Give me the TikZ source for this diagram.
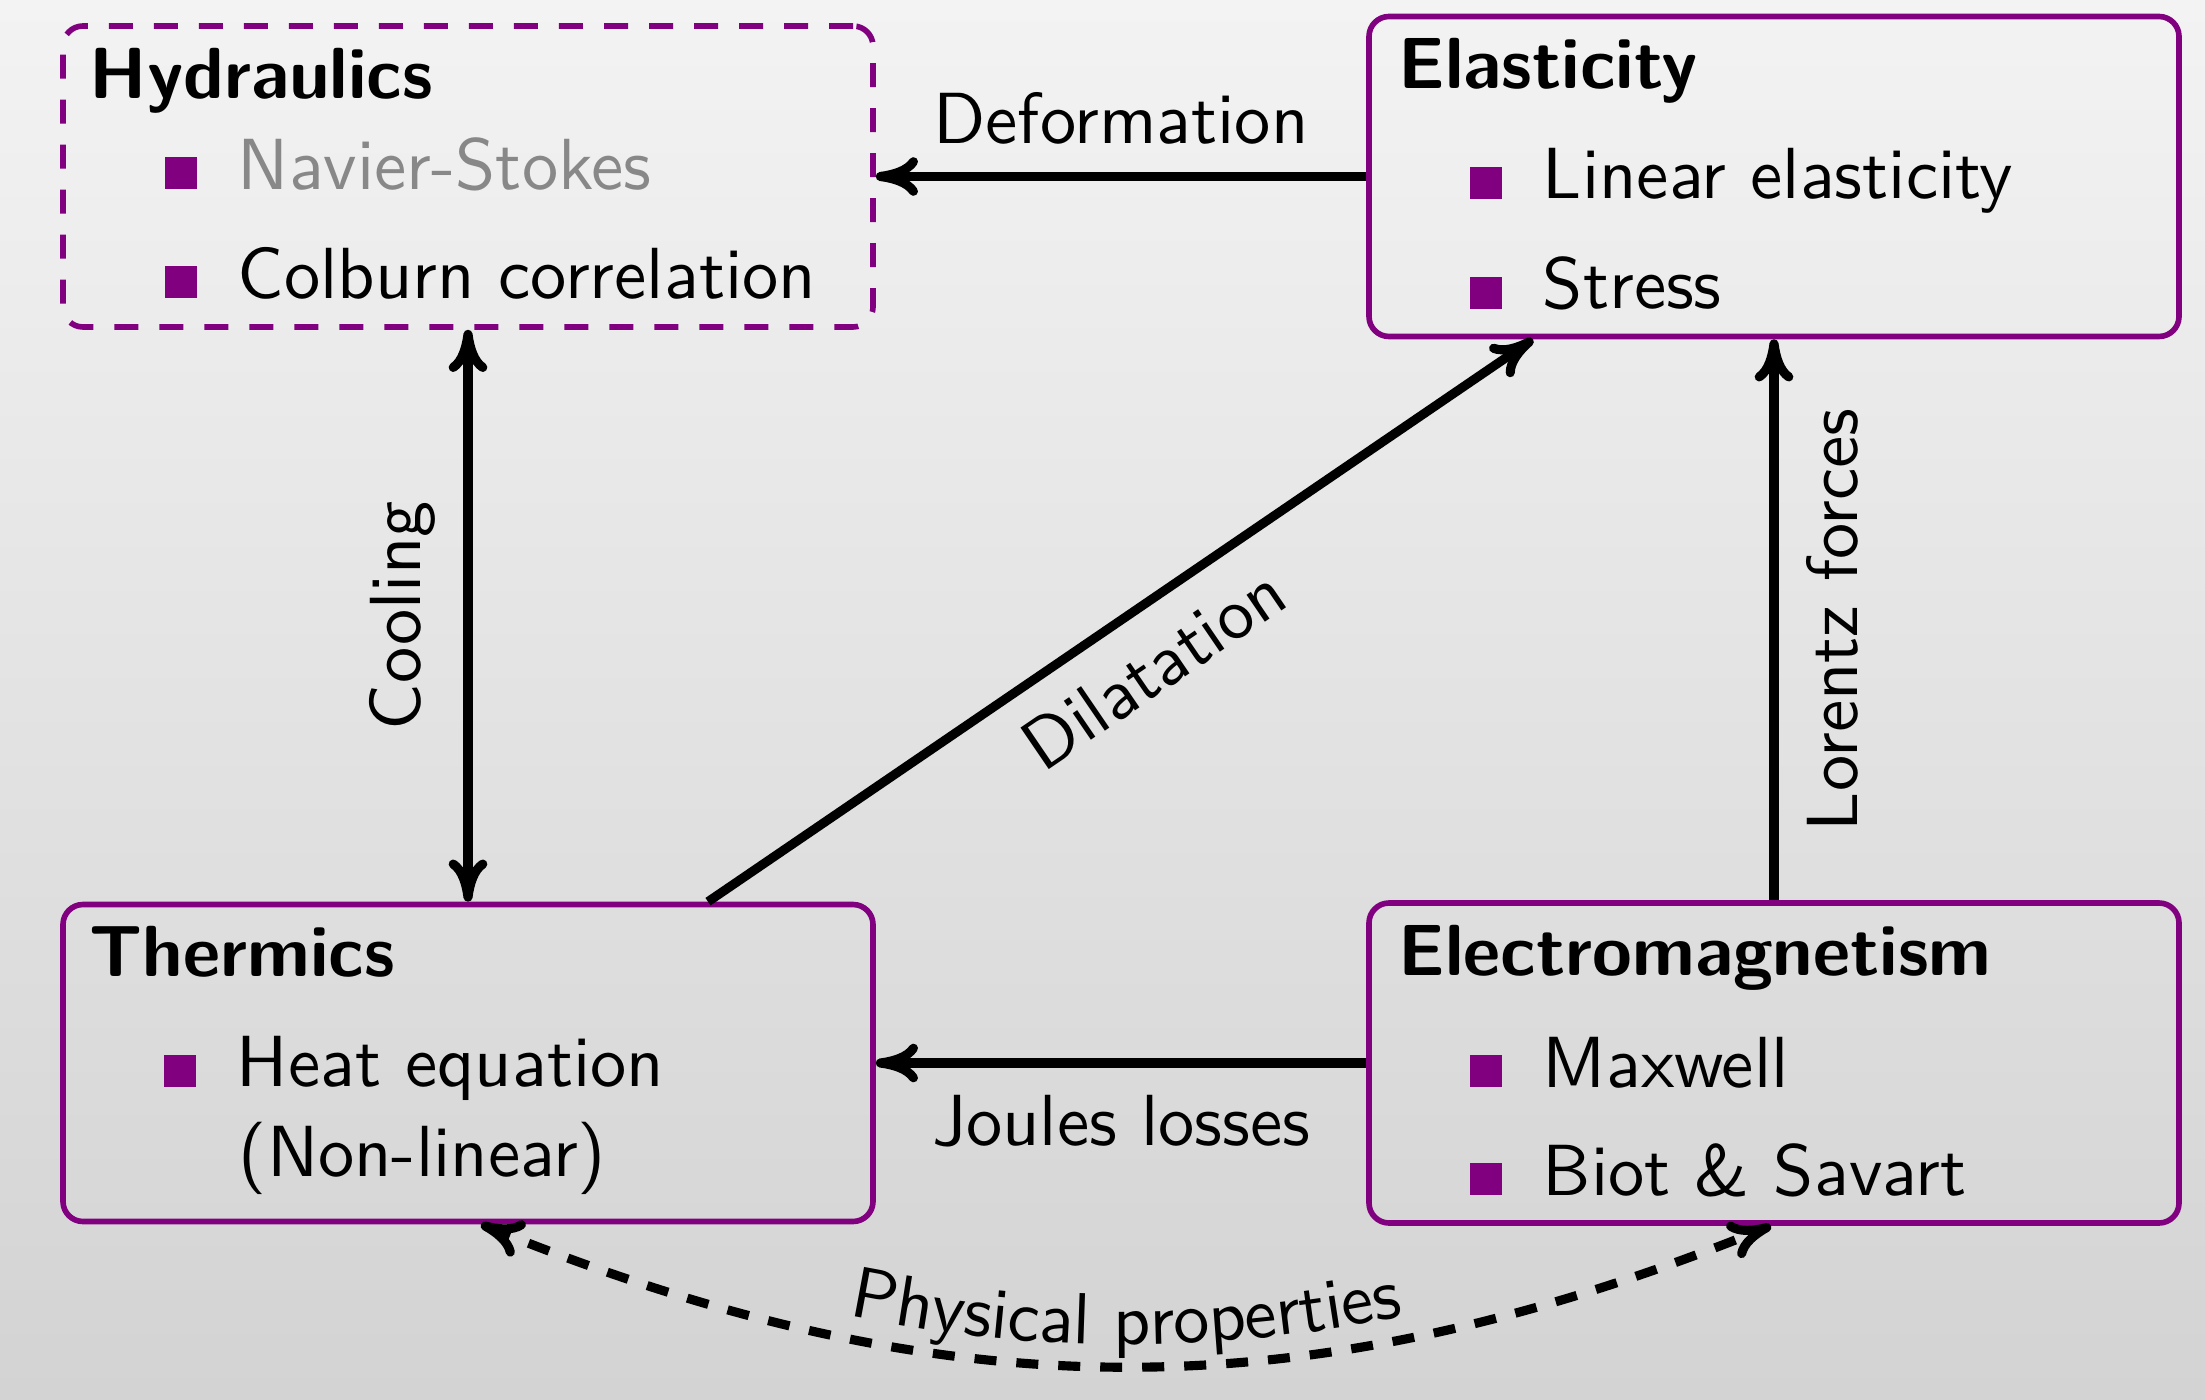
\documentclass[tikz,border=0pt]{standalone}
\usepackage{fontspec}
\setsansfont{lmsans10-regular}[Extension=.otf, BoldFont=lmsans10-bold]
\usetikzlibrary{arrows.meta,decorations.text}
\definecolor{boxpurple}{RGB}{128,0,128}
\definecolor{softgray}{RGB}{136,136,136}
\definecolor{bgtop}{RGB}{243,243,243}
\definecolor{bgbottom}{RGB}{211,211,211}
\tikzstyle{block}  = [draw=boxpurple, line width=1.6pt, rounded corners=0.2cm, minimum width=8.1cm, inner sep=0pt]
\tikzstyle{link}   = [line width=2.6pt, >={Computer Modern Rightarrow[length=12pt,width=11pt]}]
\tikzstyle{lbl}    = [inner sep=0.28cm]
\tikzstyle{line}   = [anchor=base west, inner sep=0pt]
\newcommand{\itm}[1]{\textcolor{boxpurple}{\rule{0.32cm}{0.32cm}}\hspace{0.41cm}#1}

\begin{document}
\begin{tikzpicture}[font=\sffamily\fontsize{20.6}{24.7}\selectfont]
    \useasboundingbox (0,0) rectangle (22.05,13.99);
    \shade[top color=bgtop, bottom color=bgbottom] (0,0) rectangle (22.05,13.99);
    % boxes
    \node[block, dashed, dash pattern=on 0.24cm off 0.21cm, minimum height=3.01cm] (hyd) at (4.68,12.225) {};
    \node[block, minimum height=3.20cm] (ela) at (17.74,12.225) {};
    \node[block, minimum height=3.17cm] (the) at (4.68,3.36) {};
    \node[block, minimum height=3.20cm] (ele) at (17.74,3.36) {};
    % box contents
    \node[line] (hydT) at ([shift={(0.29,-0.75)}]hyd.north west) {\bfseries Hydraulics};
    \node[line] (hydA) at ([shift={(1.04,-1.66)}]hyd.north west) {\itm{\textcolor{softgray}{Navier-Stokes}}};
    \node[line] (hydB) at ([shift={(1.04,-2.75)}]hyd.north west) {\itm{Colburn correlation}};
    \node[line] (elaT) at ([shift={(0.32,-0.75)}]ela.north west) {\bfseries Elasticity};
    \node[line] (elaA) at ([shift={(1.03,-1.85)}]ela.north west) {\itm{Linear elasticity}};
    \node[line] (elaB) at ([shift={(1.03,-2.95)}]ela.north west) {\itm{Stress}};
    \node[line] (theT) at ([shift={(0.29,-0.75)}]the.north west) {\bfseries Thermics};
    \node[line] (theA) at ([shift={(1.03,-1.85)}]the.north west) {\itm{Heat equation}};
    \node[line] (theB) at ([shift={(1.78,-2.75)}]the.north west) {(Non-linear)};
    \node[line] (eleT) at ([shift={(0.32,-0.75)}]ele.north west) {\bfseries Electromagnetism};
    \node[line] (eleA) at ([shift={(1.03,-1.87)}]ele.north west) {\itm{Maxwell}};
    \node[line] (eleB) at ([shift={(1.03,-2.95)}]ele.north west) {\itm{Biot \& Savart}};
    % couplings
    \draw[link,->] (ela) -- node[midway,above,lbl] {Deformation} (hyd);
    \draw[link,<->] (the) -- node[midway,sloped,above,lbl] {Cooling} (hyd);
    \draw[link,->] ([xshift=2.4cm]the.north) -- node[midway,sloped,below,lbl] {Dilatation} ([xshift=-2.41cm]ela.south);
    \draw[link,->] (ele) -- node[midway,sloped,below,lbl] {Lorentz forces} (ela);
    \draw[link,->] (ele) -- node[midway,below,lbl] {Joules losses} (the);
    \draw[link,<->,dash pattern=on 0.22cm off 0.2cm] ([xshift=0.13cm]the.south) to[bend right=22] ([xshift=-0.03cm]ele.south);
    \path[decorate, decoration={text along path, text align=center, raise=0.22cm,
        text={|\sffamily\fontsize{20.6}{24.7}\selectfont|Physical properties}}]
        ([xshift=0.13cm]the.south) to[bend right=22] ([xshift=-0.03cm]ele.south);
\end{tikzpicture}
\end{document}
